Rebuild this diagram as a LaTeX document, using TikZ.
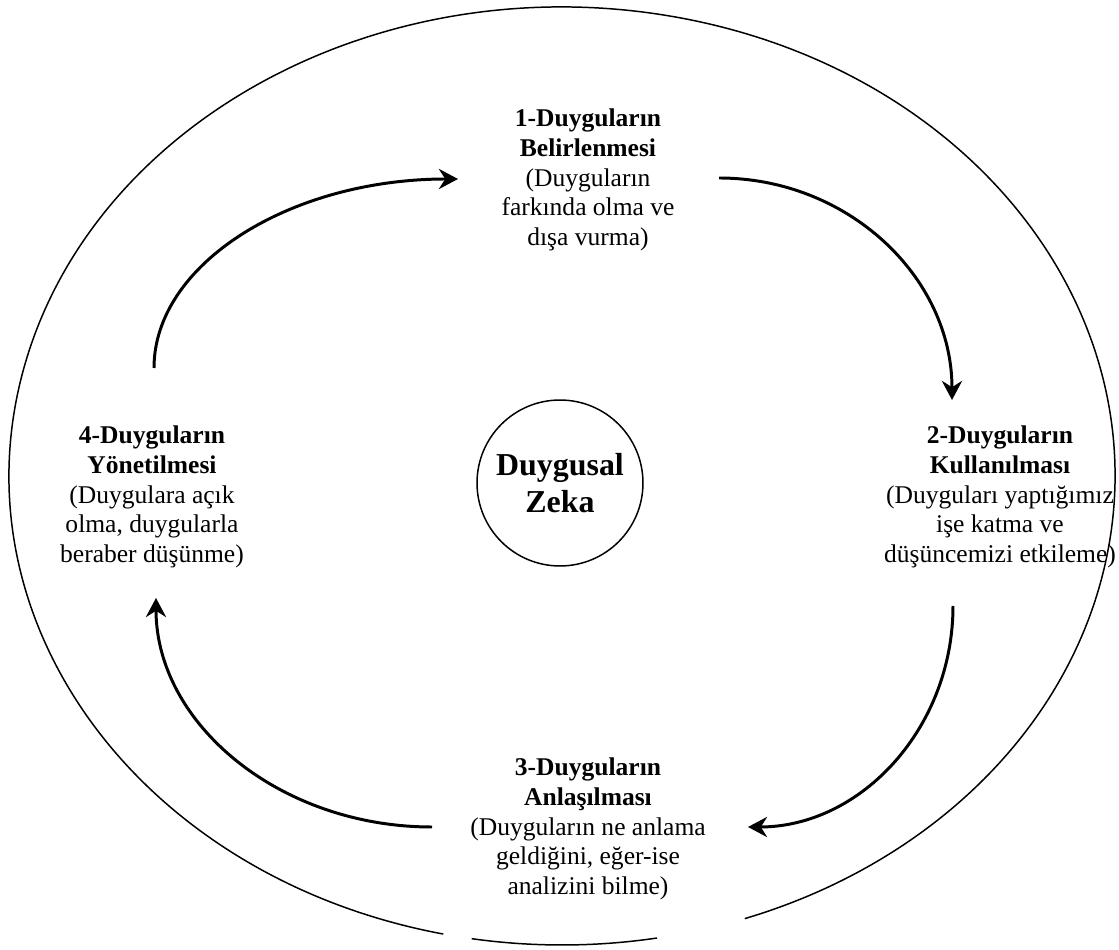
\documentclass[tikz,border=0pt]{standalone}
\usepackage{fontspec}
\setmainfont{Liberation Serif}
\usetikzlibrary{arrows.meta}
\tikzset{stage/.style={align=center,inner sep=0pt,font=\fontsize{12}{13.9}\selectfont},
  core/.style={draw,circle,line width=.7pt,minimum size=78pt,align=center,font=\fontsize{15}{17.5}\selectfont\bfseries},
  rim/.style={line width=.7pt},
  flow/.style={line width=1.4pt,-{Stealth[length=9pt,width=9.5pt,inset=3pt]}}}

\begin{document}
\begin{tikzpicture}[x=.47pt,y=-.47pt]
\useasboundingbox (0,0) rectangle (1119,950);
% Outer ellipse, open under the bottom stage.
\coordinate (ec) at (562,476);
\draw[rim] (ec) ++(102.4:553 and 469) arc[start angle=102.4,end angle=430.7,x radius=553,y radius=469];
\draw[rim] (ec) ++(80.1:553 and 469) arc[start angle=80.1,end angle=99.4,x radius=553,y radius=469];
% Centre.
\node[core] (zeka) at (560,483) {Duygusal\\Zeka};
% The four stages.
\node[stage] (s1) at (588,180) {\textbf{1-Duyguların}\\\textbf{Belirlenmesi}\\(Duyguların\\farkında olma ve\\dışa vurma)};
\node[stage] (s2) at (1000,497) {\textbf{2-Duyguların}\\\textbf{Kullanılması}\\(Duyguları yaptığımız\\işe katma ve\\düşüncemizi etkileme)};
\node[stage] (s3) at (588,829) {\textbf{3-Duyguların}\\\textbf{Anlaşılması}\\(Duyguların ne anlama\\geldiğini, eğer-ise\\analizini bilme)};
\node[stage] (s4) at (152,497) {\textbf{4-Duyguların}\\\textbf{Yönetilmesi}\\(Duygulara açık\\olma, duygularla\\beraber düşünme)};
% Arrow ends.
\coordinate (a1s) at (154,368); \coordinate (a1e) at (458,179);
\coordinate (a2s) at (719,178); \coordinate (a2e) at (952,400);
\coordinate (a3s) at (953,606); \coordinate (a3e) at (748,827);
\coordinate (a4s) at (432,827); \coordinate (a4e) at (156,598);
% Cycle, clockwise.
\draw[flow] (a1s) .. controls +(0,-104) and +(-168,0) .. (a1e);
\draw[flow] (a2s) .. controls +(129,0) and +(0,-123) .. (a2e);
\draw[flow] (a3s) .. controls +(0,122) and +(113,0) .. (a3e);
\draw[flow] (a4s) .. controls +(-152,0) and +(0,126) .. (a4e);
\end{tikzpicture}
\end{document}
